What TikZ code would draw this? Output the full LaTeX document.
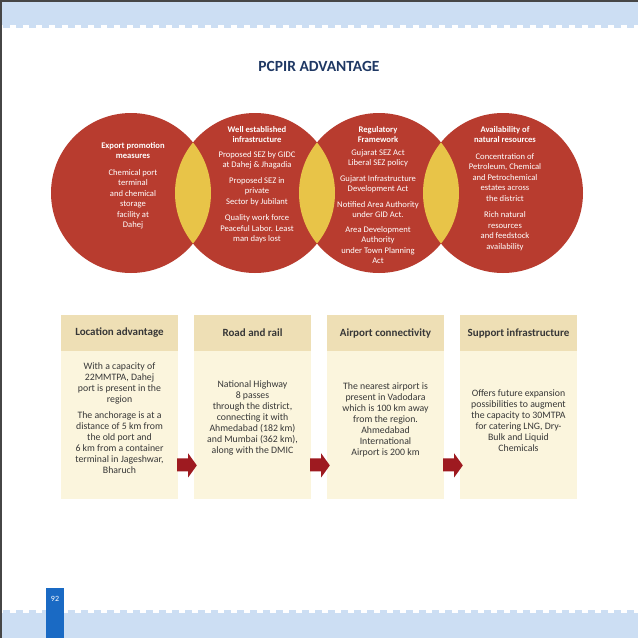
\documentclass[tikz,border=0pt]{standalone}
\usepackage{fontspec}
\setmainfont{Carlito}
\usetikzlibrary{positioning,calc}

\definecolor{circred}{RGB}{184,60,47}
\definecolor{lensyellow}{RGB}{232,196,72}
\definecolor{hdrtan}{RGB}{238,223,181}
\definecolor{bodycream}{RGB}{251,245,221}
\definecolor{arrowred}{RGB}{158,26,32}
\definecolor{bandblue}{RGB}{204,222,243}
\definecolor{pageblue}{RGB}{26,106,196}
\definecolor{titlenavy}{RGB}{31,56,100}
\definecolor{textgray}{RGB}{55,55,55}
\definecolor{bordergray}{RGB}{70,70,70}

\tikzset{
  circ/.style={circle, fill=circred, minimum size=160pt, inner sep=0pt},
  lens/.style={fill=lensyellow},
  circtext/.style={text=white, align=center, anchor=north, inner sep=0pt,
    font=\fontsize{8.6}{10.5}\selectfont},
  hdrbox/.style={fill=hdrtan, minimum width=117pt, minimum height=36pt, inner sep=0pt,
    text=textgray, font=\fontsize{11}{12}\selectfont\bfseries},
  bodybox/.style={fill=bodycream, minimum width=117pt, minimum height=148pt, inner sep=0pt},
  bodytext/.style={align=center, inner sep=0pt, text=textgray,
    font=\fontsize{9.8}{11}\selectfont},
}

% block arrow from one body box to the next
\newcommand{\flowarrow}[2]{%
  \fill[arrowred] ($(#1.east)+(-1,33)$) -- ($(#1.east)+(10,33)$) -- ($(#1.east)+(10,28)$)
    -- ($(#2.west)+(3,40)$) -- ($(#1.east)+(10,52)$) -- ($(#1.east)+(10,46)$)
    -- ($(#1.east)+(-1,46)$) -- cycle;
}

\begin{document}
\begin{tikzpicture}[x=1pt, y=-1pt]
  \useasboundingbox (0,0) rectangle (638,638);
  \fill[white] (0,0) rectangle (638,638);
  % page bands
  \fill[bandblue] (0,0) rectangle (638,25);
  \foreach \x in {3,16,...,638} { \fill[bandblue] (\x,25) rectangle (\x+7,28); }
  \fill[bandblue] (0,613) rectangle (638,638);
  \foreach \x in {3,16,...,638} { \fill[bandblue] (\x,610) rectangle (\x+7,613); }
  \fill[pageblue] (46,588) rectangle (64,638);
  \node[text=white, font=\fontsize{8}{9}\selectfont] (pgnum) at (55,599) {92};
  \draw[bordergray, line width=1.5pt] (0.75,638) -- (0.75,0.75) -- (638,0.75);

  \node[text=titlenavy, font=\fontsize{15.5}{17}\selectfont\bfseries] (title) at (319,66) {PCPIR ADVANTAGE};

  % circles
  \foreach \n/\cx in {1/131,2/255,3/379,4/503}{
    \node[circ] (c\n) at (\cx,193) {};
  }
  \foreach \a/\b in {1/2,2/3,3/4}{
    \begin{scope}
      \clip (c\a.center) circle (80pt);
      \fill[lens] (c\b.center) circle (80pt);
    \end{scope}
  }
  \node[circtext] (t1) at (133,142) {\textbf{Export promotion}\\\textbf{measures}\\[6pt]
    Chemical port\\terminal\\and chemical\\storage\\facility at\\Dahej};
  \node[circtext] (t2) at (257,126) {\textbf{Well established}\\\textbf{infrastructure}\\[4pt]
    Proposed SEZ by GIDC\\at Dahej \& Jhagadia\\[5pt]
    Proposed SEZ in\\private\\Sector by Jubilant\\[6pt]
    Quality work force\\Peaceful Labor. Least\\man days lost};
  \node[circtext] (t3) at (378,126) {\textbf{Regulatory}\\\textbf{Framework}\\[2pt]
    Gujarat SEZ Act\\Liberal SEZ policy\\[5pt]
    Gujarat Infrastructure\\Development Act\\[5pt]
    Notified Area Authority\\under GID Act.\\[4pt]
    Area Development\\Authority\\under Town Planning\\Act};
  \node[circtext] (t4) at (505,126) {\textbf{Availability of}\\\textbf{natural resources}\\[6pt]
    Concentration of\\Petroleum, Chemical\\and Petrochemical\\estates across\\the district\\[6pt]
    Rich natural\\resources\\and feedstock\\availability};

  % boxes
  \foreach \id/\cx/\lab in {loc/119.5/{Location advantage},road/252.5/{Road and rail},
      air/385.5/{Airport connectivity},sup/518.5/{Support infrastructure}}{
    \node[hdrbox] (h\id) at (\cx,333) {\lab};
    \node[bodybox, below=0pt of h\id] (b\id) {};
  }
  \node[bodytext] (tloc) at ([yshift=7pt]bloc.center) {With a capacity of\\22MMTPA, Dahej\\port is present in the\\region\\[5pt]
    The anchorage is at a\\distance of 5 km from\\the old  port and\\6 km from a container\\terminal in Jageshwar,\\Bharuch};
  \node[bodytext] (troad) at ([yshift=7pt]broad.center) {National Highway\\8 passes\\through the district,\\connecting it with\\Ahmedabad (182 km)\\and Mumbai (362 km),\\along with the DMIC};
  \node[bodytext] (tair) at ([yshift=6pt]bair.center) {The nearest airport is\\present in Vadodara\\which is 100 km away\\from the region.\\Ahmedabad\\International\\Airport is 200 km};
  \node[bodytext] (tsup) at ([yshift=5pt]bsup.center) {Offers future expansion\\possibilities to augment\\the capacity to 30MTPA\\for catering LNG, Dry-\\Bulk and Liquid\\Chemicals};

  \flowarrow{bloc}{broad}
  \flowarrow{broad}{bair}
  \flowarrow{bair}{bsup}
\end{tikzpicture}
\end{document}
